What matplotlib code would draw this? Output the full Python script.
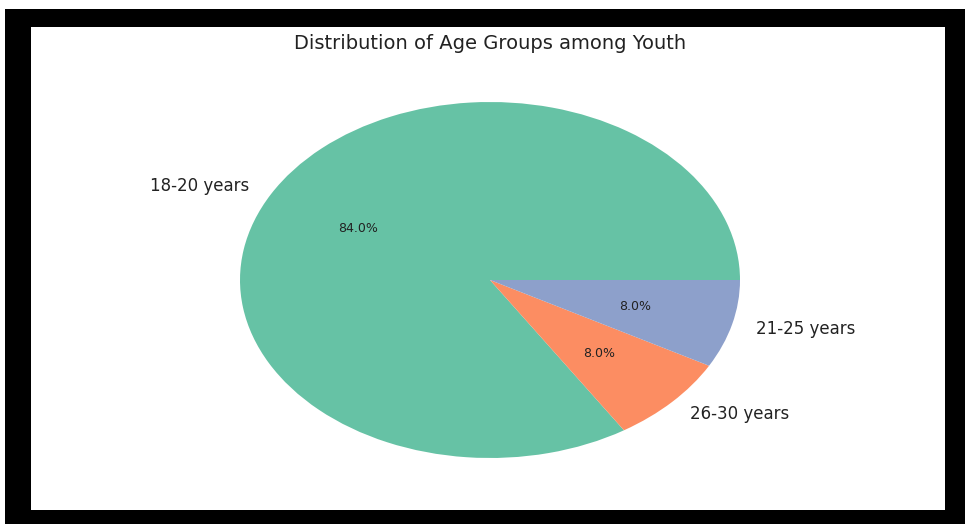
import matplotlib
matplotlib.use('Agg')
import matplotlib.pyplot as plt
from matplotlib.patches import Rectangle

# 데이터
labels = ['18-20 years', '26-30 years', '21-25 years']
sizes = [84, 8, 8]
colors = ['#66c2a5', '#fc8d62', '#8da0cb']

fig = plt.figure(figsize=(9.65, 5.3), dpi=100)
W, H = 965, 530

# 검은 테두리 (픽셀 좌표 -> figure 비율)
def px_rect(x0, y0, x1, y1, color):
    fig.patches.append(Rectangle((x0 / W, 1 - y1 / H), (x1 - x0) / W, (y1 - y0) / H,
                                 transform=fig.transFigure, facecolor=color,
                                 edgecolor='none', zorder=-10))

px_rect(5, 9, 965, 524, 'black')
px_rect(31, 27, 945, 510, 'white')

ax = fig.add_axes([177.5 / W, 1 - 502.5 / H, 625 / W, 445 / H])
ax.pie(sizes, labels=labels, colors=colors, autopct='%1.1f%%', startangle=0,
       textprops={'fontsize': 12, 'color': '#222222'})
for t in ax.texts:
    if t.get_text().endswith('%'):
        t.set_fontsize(9)
ax.set_aspect('auto')
ax.set_xlim(-1.25, 1.25)
ax.set_ylim(-1.25, 1.25)
ax.set_title('Distribution of Age Groups among Youth', fontsize=14, color='#222222')

plt.savefig('out.png', dpi=100)
